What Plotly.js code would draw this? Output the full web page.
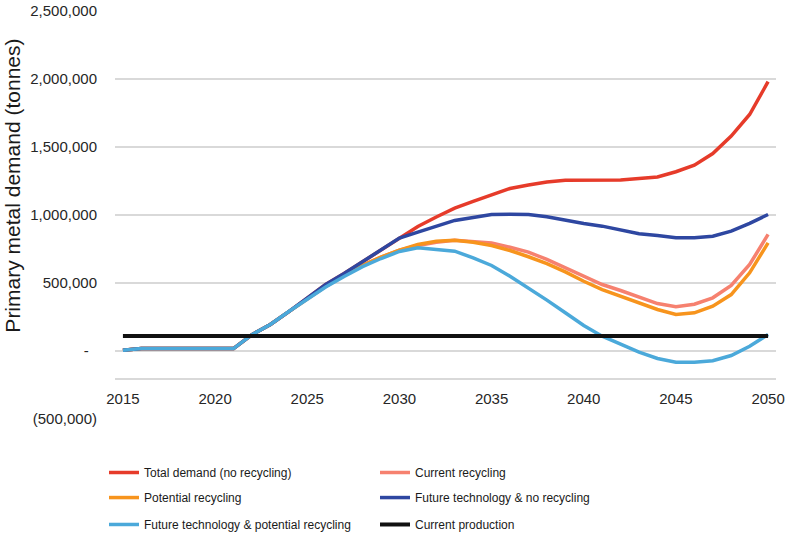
<!DOCTYPE html>
<html>
<head>
<meta charset="utf-8">
<script src="https://cdn.plot.ly/plotly-3.0.1.min.js"></script>
<style>html,body{margin:0;padding:0;background:#fff;}#chart{width:785px;height:534px;}</style>
</head>
<body>
<div id="chart"></div>
<script>
var years = [2015,2016,2017,2018,2019,2020,2021,2022,2023,2024,2025,2026,2027,2028,2029,2030,2031,2032,2033,2034,2035,2036,2037,2038,2039,2040,2041,2042,2043,2044,2045,2046,2047,2048,2049,2050];

var totalDemand = [5000,18000,18000,18000,18000,18000,18000,120000,195000,290000,390000,489000,570000,655000,745000,830000,915000,985000,1050000,1100000,1150000,1195000,1220000,1242000,1255000,1257000,1257000,1257000,1268000,1280000,1318000,1366000,1452000,1580000,1739000,1980000];

var currentRecycling = [5000,18000,18000,18000,18000,18000,18000,120000,195000,290000,385000,475000,555000,630000,690000,742000,776000,800000,815000,808000,795000,763000,727000,673000,612000,550000,489000,445000,398000,349000,325000,344000,391000,482000,636000,857000];

var potentialRecycling = [5000,18000,18000,18000,18000,18000,18000,120000,195000,290000,385000,475000,555000,630000,690000,741000,783000,807000,815000,800000,776000,739000,693000,643000,582000,513000,452000,403000,354000,305000,268000,281000,330000,415000,575000,795000];

var futureTechNoRecycling = [5000,18000,18000,18000,18000,18000,18000,120000,195000,290000,390000,489000,570000,655000,745000,830000,874000,918000,960000,982000,1004000,1005000,1004000,987000,960000,938000,918000,888000,862000,849000,833000,832000,844000,881000,938000,1004000];

var futureTechPotential = [5000,18000,18000,18000,18000,18000,18000,120000,195000,290000,380000,470000,548000,620000,680000,732000,759000,746000,734000,685000,629000,550000,465000,374000,281000,188000,109000,48000,-9000,-55000,-82000,-82000,-72000,-33000,35000,121000];

var currentProduction = [110000,110000,110000,110000,110000,110000,110000,110000,110000,110000,110000,110000,110000,110000,110000,110000,110000,110000,110000,110000,110000,110000,110000,110000,110000,110000,110000,110000,110000,110000,110000,110000,110000,110000,110000,110000];

var seriesNames = ["Total demand (no recycling)","Current recycling","Potential recycling","Future technology & no recycling","Future technology & potential recycling","Current production"];

var yTickVals = [-500000,0,500000,1000000,1500000,2000000,2500000];
var yTickText = ["(500,000)","-\u00a0\u00a0","500,000","1,000,000","1,500,000","2,000,000","2,500,000"];
var xTickVals = [2015,2020,2025,2030,2035,2040,2045,2050];
var xTickText = ["2015","2020","2025","2030","2035","2040","2045","2050"];

var FONT = "Liberation Sans, Arial, sans-serif";
var colors = ["#E63B2A","#F6816F","#F7941D","#2E47A1","#4BA9DA","#111111"];
var legendIds = ["legend","legend","legend2","legend2","legend3","legend3"];
var values = [totalDemand,currentRecycling,potentialRecycling,futureTechNoRecycling,futureTechPotential,currentProduction];

var traces = values.map(function(v,i){
  return {
    x: years, y: v, type: "scatter", mode: "lines",
    name: seriesNames[i],
    line: {color: colors[i], width: i===5 ? 4 : 3.5},
    legend: legendIds[i],
    hoverinfo: "skip"
  };
});

function leg(y){
  return {
    orientation: "h", x: -0.0166, xanchor: "left", y: y, yanchor: "top",
    entrywidth: 226, entrywidthmode: "pixels", itemwidth: 30,
    font: {family: FONT, size: 12, color: "#1a1a1a"},
    bgcolor: "rgba(0,0,0,0)", traceorder: "normal"
  };
}

var layout = {
  width: 785, height: 534,
  margin: {l: 115, r: 9, t: 11, b: 115, autoexpand: false},
  paper_bgcolor: "#fff", plot_bgcolor: "#fff",
  showlegend: true,
  font: {family: FONT, color: "#262626"},
  xaxis: {
    range: [2014.57, 2050.43],
    anchor: "free", position: 0.1,
    showline: true, linecolor: "#d9d9d9", linewidth: 1.5,
    showgrid: false, zeroline: false,
    tickvals: xTickVals, ticktext: xTickText,
    ticks: "outside", ticklen: 6, tickcolor: "rgba(0,0,0,0)",
    tickfont: {family: FONT, size: 15, color: "#262626"}
  },
  yaxis: {
    range: [-500000, 2500000],
    tickvals: yTickVals, ticktext: yTickText,
    showgrid: true, gridcolor: "#d9d9d9", gridwidth: 1.5,
    zeroline: false, showline: false,
    ticks: "outside", ticklen: 14, tickcolor: "rgba(0,0,0,0)",
    tickfont: {family: FONT, size: 15, color: "#262626"}
  },
  legend: leg(-0.0956),
  legend2: leg(-0.157),
  legend3: leg(-0.223),
  annotations: [{
    text: "Primary metal demand (tonnes)",
    xref: "paper", yref: "paper",
    x: -0.1543, y: 0.572, xanchor: "center", yanchor: "middle",
    textangle: -90, showarrow: false,
    font: {family: FONT, size: 21, color: "#1a1a1a"}
  }]
};

Plotly.newPlot("chart", traces, layout, {displayModeBar: false, staticPlot: true});
</script>
</body>
</html>
